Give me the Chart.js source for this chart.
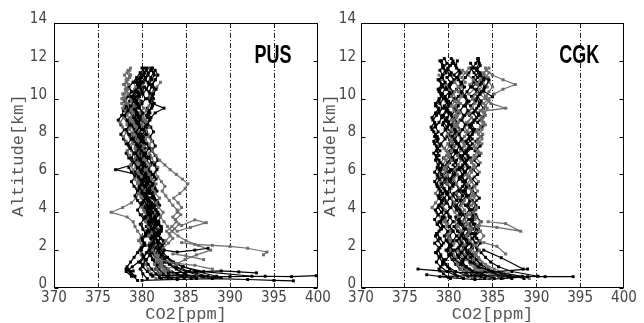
<!DOCTYPE html>
<html><head><meta charset="utf-8">
<script src="https://cdn.jsdelivr.net/npm/chart.js@4.4.0/dist/chart.umd.min.js"></script>
<style>
html,body{margin:0;padding:0;background:#fff;}
#wrap{position:relative;width:644px;height:323px;overflow:hidden;background:#fff;}
canvas{position:absolute;top:0;}
#c1{left:0;width:344px;height:323px;}
#c2{left:322px;width:322px;height:323px;}
</style></head><body>
<div id="wrap"><canvas id="c1" width="344" height="323"></canvas><canvas id="c2" width="322" height="323"></canvas></div>
<script>
// ---- axes ----
const xTicks = [370,375,380,385,390,395,400];
const yTicks = [0,2,4,6,8,10,12,14];
const xTitle = 'CO2[ppm]';
const yTitle = 'Altitude[km]';
const panelNames = ['PUS','CGK'];

// ---- altitude sampling levels (km) ----
const altA = [0.5,0.75,1,1.25,1.5,1.75,2,2.25,2.5,2.75,3,3.25,3.5,3.75,4,4.25,4.5,4.75,5,5.25,5.5,5.75,6,6.25,6.5,6.75,7,7.25,7.5,7.75,8,8.25,8.5,8.75,9,9.25,9.5,9.75,10,10.25,10.5,10.75,11,11.25,11.5,11.75,12,12.25];
const altB = [0.62,0.87,1.12,1.37,1.62,1.87,2.12,2.37,2.62,2.87,3.12,3.37,3.62,3.87,4.12,4.37,4.62,4.87,5.12,5.37,5.62,5.87,6.12,6.37,6.62,6.87,7.12,7.37,7.62,7.87,8.12,8.37,8.62,8.87,9.12,9.37,9.62,9.87,10.12,10.37,10.62,10.87,11.12,11.37,11.62,11.87,12.12];

// ---- PUS profiles (CO2 ppm, bottom level upward) ----
const pus01 = [386.2,384.8,383.9,383.1,382.6,382.2, 381.9,382.3,381.8,381.5,381.9,381.4,381.1,381.5, 381.2,380.8,381.1,380.7,380.4,380.8,380.5,380.1, 380.4,380.0,380.3,379.8,380.2,379.9,379.5,379.9, 379.6,379.3,379.7,379.4,379.8,380.1,379.7,380.0, 380.4,380.1,380.5,380.8,380.4,380.7,381.0];
const pus02 = [392.5,387.0,384.6,383.4,382.7,382.0, 381.6,381.9,381.4,381.7,381.2,381.5,381.0,380.7, 381.0,380.6,380.2,380.5,380.0,379.7,380.0,379.6, 379.2,379.5,379.1,378.8,379.1,378.7,378.4,378.8, 378.5,378.2,378.6,378.3,378.0,378.4,378.7,379.1, 378.8,379.2,379.6,379.3,379.8,380.2,380.6];
const pus03 = [384.2,383.6,383.0,383.8,384.9,386.2, 387.8,386.4,385.0,384.1,383.4,382.9,382.5,382.1, 382.4,381.9,381.6,382.0,381.5,381.2,381.6,381.1, 380.8,380.5,380.9,380.4,380.1,379.8,380.2,379.7, 379.4,379.1,379.5,379.0,378.7,379.0,378.6,378.3, 378.0,378.4,378.1,378.5,378.2,378.7];
const pus04 = [381.2,380.6,380.1,379.8,380.2,380.5, 380.9,381.3,381.0,381.4,381.1,380.8,381.2,380.9, 380.6,381.0,380.7,380.3,380.7,380.4,380.0,380.3, 379.9,379.6,380.0,379.7,379.3,379.7,379.4,379.0, 379.4,379.1,378.8,379.2,378.9,379.3,379.6,379.3, 379.7,380.0,379.7,380.1];
const pus05 = [383.8,383.1,382.6,382.2,381.8,381.5, 381.2,381.6,381.1,380.8,381.2,380.7,380.4,380.8, 380.3,380.0,380.4,379.9,379.6,380.0,379.5,379.2, 379.5,379.0,378.7,379.1,378.6,378.3,378.7,378.2, 377.9,378.3,377.8,377.5,377.9,378.2,377.8,378.1, 377.7,378.0,378.4,378.0,378.3,378.7,378.4];
const pus06 = [388.5,386.2,384.7,383.6,382.9,382.4, 382.0,381.7,382.1,381.8,382.2,381.9,381.5,381.9, 381.6,382.0,381.7,381.3,381.7,381.4,381.0,381.4, 381.0,380.7,381.1,380.8,380.4,380.8,380.5,380.1, 380.5,380.2,380.6,380.9,380.5,380.8,381.2,380.9, 381.2,380.8,381.1,380.7,381.0,381.3,381.0];
const pus07 = [382.6,382.1,381.7,381.4,381.7,382.0, 382.5,382.1,382.7,383.2,382.8,383.4,383.9,383.5, 384.0,384.5,384.1,383.6,384.3,384.9,385.2,384.6, 383.9,383.2,382.6,382.0,381.6,381.2,380.8,381.1, 380.7,380.4,380.8,380.5,380.1,379.8,380.2,379.9, 379.6,380.0,379.7,380.1,380.4];
const pus08 = [379.2,378.7,378.3,378.7,379.1,379.5, 379.9,380.3,380.0,380.4,380.1,379.8,380.2,379.8, 379.5,379.9,379.5,379.2,379.5,379.1,378.8,379.2, 378.8,378.5,378.9,378.5,378.2,378.6,378.2,377.9, 377.6,378.0,377.6,377.3,377.7,377.9,378.3,378.0, 378.4,378.8,378.5,379.0,379.4,379.8,380.3];
const pus09 = [384.8,383.6,382.8,382.2,381.8,381.4, 381.1,381.5,381.8,381.4,381.9,382.2,381.8,382.1, 381.7,381.4,381.8,381.4,381.1,381.5,381.2,381.6, 381.3,381.7,381.4,381.8,381.5,381.1,381.5,381.2, 380.9,381.3,381.0,380.6,381.0,380.7,381.1,381.4, 381.0,381.3,381.6,381.2,381.5,381.8,381.5];
const pus10 = [385.3,384.3,383.5,382.9,382.4,382.0, 381.7,382.0,381.6,381.3,381.7,381.3,381.0,381.3, 380.9,380.6,381.0,380.6,380.2,380.6,380.2,379.9, 380.2,379.8,379.5,379.9,379.5,379.2,379.6,379.2, 378.9,379.3,379.0,378.6,379.0,378.7,379.1,378.8, 378.5,378.9,378.5,378.2,378.6,378.3,378.7];
const pus11 = [382.2,381.6,381.1,380.7,380.4,380.1, 379.9,380.3,380.0,380.4,380.8,380.5,380.9,381.2, 380.8,381.1,380.7,380.4,380.8,380.4,380.1,380.5, 380.1,379.8,380.2,379.8,379.5,379.9,379.5,379.2, 379.6,379.3,379.7,379.4,379.0,379.4,379.1,379.5, 379.2,379.6,379.9,379.5,379.8,380.2,380.5];
const pus12 = [383.2,382.6,382.1,381.8,381.5,381.9, 382.4,383.0,383.5,383.1,383.7,384.2,383.8,384.4, 384.0,383.5,383.1,382.7,382.3,382.6,382.2,381.8, 381.5,381.8,381.4,381.1,380.8,381.1,380.7,380.4, 380.7,380.3,380.0,380.4,380.1,380.5,380.8,381.2, 380.9,381.3,381.7,382.1];
const pus13 = [380.6,380.1,379.8,380.1,380.5,380.9, 381.2,380.9,381.3,381.0,380.6,381.0,380.7,380.3, 380.7,380.3,380.0,380.4,380.0,379.7,380.1,379.8, 379.4,377.0,378.8,379.3,379.7,379.4,379.8,380.2, 379.9,380.3,380.6,380.2,380.6,380.9,380.6,381.0, 381.3,381.0,381.4,381.1,381.5];
const pus14 = [386.8,385.0,383.6,382.8,382.2,381.8, 382.1,382.5,382.1,381.8,382.2,381.8,381.5,381.9, 381.5,381.2,381.6,381.2,380.9,381.3,380.9,380.6, 380.9,380.5,380.2,380.6,380.2,379.9,380.3,379.9, 379.6,380.0,379.6,379.3,379.7,379.3,379.0,379.4, 379.1,379.5,379.9,379.6,380.0,380.3,380.0];
const pus15 = [381.6,381.1,380.7,380.4,380.1,379.9, 379.7,380.0,379.6,379.9,379.5,379.2,379.0,378.3, 376.5,377.8,378.8,379.3,379.7,379.4,379.8,380.1, 379.8,380.2,380.5,380.2,379.9,380.3,379.9,379.6, 379.3,379.7,379.3,379.0,378.7,379.1,378.7,378.4, 378.1,378.5,378.2];
const pus16 = [378.8,378.2,378.9,379.6,380.1,380.6, 381.0,381.4,381.1,381.5,381.2,380.9,381.3,380.9, 380.6,381.0,380.6,380.3,380.7,380.3,380.0,380.4, 380.0,379.7,380.1,379.7,379.4,379.8,379.4,379.1, 378.8,379.2,378.8,378.5,378.9,378.5,378.2,378.6, 378.9,379.3];
const pus17 = [383.0,382.4,381.9,381.5,381.2,380.9, 381.3,380.9,381.2,380.8,381.1,380.7,381.0,380.6, 380.9,380.5,380.8,380.4,380.7,380.3,380.6,380.2, 380.5,380.1,380.4,380.0,380.3,379.9,380.2,379.8, 380.1,380.5,380.2,380.6,381.0,381.5,382.5,381.2, 380.6,380.9,380.5,380.8,381.1,381.4,381.1];
const pus18 = [384.0,383.2,382.6,382.2,381.8,381.5, 381.2,381.0,381.4,381.1,380.8,381.2,380.9,380.5, 380.2,380.6,380.2,379.9,380.3,379.9,379.6,380.0, 379.6,379.3,379.7,379.3,379.0,379.4,379.0,378.7, 379.0,378.6,378.3,378.7,378.3,378.0,378.4,378.8, 378.5,378.9,379.3,379.0,379.4,379.8];
const pus19 = [383.4,382.1,381.6,381.8,381.3,381.0, 380.8,381.5,381.1,381.3,380.6,380.9,381.4,380.8, 380.5,380.7,380.2,380.9,380.4,380.1,380.6,380.3, 379.9,380.5,380.0,379.6,380.1,379.8,379.3,379.9, 379.5,379.7,379.1,379.6,379.2,379.5,378.9,379.4, 379.0,379.6,379.2,379.8,379.4,379.9];
const pus20 = [387.5,385.4,383.9,382.6,382.1,381.6, 381.2,381.8,381.5,382.0,381.4,381.7,381.1,381.3, 381.0,381.5,380.9,381.2,380.7,381.0,380.4,380.8, 380.3,380.6,380.1,380.4,379.8,380.3,379.7,380.0, 379.5,379.9,379.3,379.8,379.4,379.1,379.6,379.2, 379.7,379.3,379.8,380.2];
const pus21 = [382.8,382.0,381.5,381.7,381.2,380.9, 381.0,380.6,381.1,380.7,380.4,380.9,380.5,380.2, 380.6,380.1,379.8,380.3,379.9,379.5,380.0,379.6, 379.2,379.7,379.3,378.9,379.4,378.8,378.5,379.0, 378.6,378.2,378.7,378.3,377.9,378.4,378.1,377.7, 378.2,377.8,378.3,377.9,378.4,378.0,378.6];
const pus22 = [384.6,383.3,382.5,381.9,381.6,381.1, 381.4,380.9,381.3,381.6,381.0,381.2,380.7,381.1, 380.8,380.4,380.9,380.5,380.8,380.2,380.6,380.1, 380.5,379.9,380.3,379.8,380.2,379.7,380.0,379.5, 379.9,379.4,379.8,379.3,379.7,379.2,379.6,379.9, 379.5,380.0,380.3,379.9,380.4,380.7,381.2];
const pus23 = [385.6,384.0,382.9,382.3,381.9,382.3, 381.8,382.1,382.5,381.9,382.2,381.6,381.9,381.4, 381.8,381.3,381.6,381.1,381.4,380.9,381.3,380.8, 381.1,380.6,381.0,380.5,380.9];
const pus24 = [383.0,382.3,381.9,382.4,382.0,381.7, 382.2,381.8,381.5,381.9,381.4,381.7,381.2,381.6, 381.1,381.4,380.9,381.3,380.8,381.1,380.6,381.0, 380.5,380.8,380.3,380.7,380.1,380.5,380.0,380.4, 379.8,380.2,379.7,380.1,379.5,379.9,379.4,379.8];
const pusProfiles = [pus01,pus02,pus03,pus04,pus05,pus06,pus07,pus08,pus09,pus10,pus11,pus12,pus13,pus14,pus15,pus16,pus17,pus18,pus19,pus20,pus21,pus22,pus23,pus24];
const pusLevels   = [altA,altB,altA,altB,altA,altB,altA,altB,altA,altB,altA,altB,altA,altB,altA,altB,altA,altB,altA,altB,altA,altB,altA,altB];
// low-level and side excursions, [CO2, km]
const pusTail1 = [[382,0.55],[386,0.58],[390,0.6],[394,0.62],[397,0.6],[399.8,0.65]];
const pusTail2 = [[380,0.4],[384,0.45],[388,0.5],[392,0.45],[395,0.4],[397.2,0.38]];
const pusTail3 = [[383,0.8],[386,0.85],[389,0.9],[391,0.85],[393,0.8]];
const pusTail4 = [[384.5,2.4],[386,2.3],[388,2.25],[390,2.2],[392,2.1],[394.2,1.9],[393.8,1.75]];
const pusTail5 = [[384,3.0],[385.5,3.2],[387.3,3.45],[386,3.6],[384.5,3.3]];
const pusTail6 = [[383.5,1.8],[385,1.7],[387,1.5]];
const pusTail7 = [[382.5,2.0],[384,1.9],[386,2.0],[387.5,2.1]];
const pusTail8 = [[379.5,0.4],[378.8,0.7],[378.2,1.0],[379.0,0.9]];
const pusTail9 = [[382,1.5],[384,1.3],[386,1.2],[388,1.0]];
const pusTail10 = [[381,0.7],[383,0.65],[385,0.7],[387,0.6],[389,0.55]];
const pusTails = [pusTail1,pusTail2,pusTail3,pusTail4,pusTail5,pusTail6,pusTail7,pusTail8,pusTail9,pusTail10];

// ---- CGK profiles ----
const cgk01 = [385.2,383.8,382.4,381.4,380.7,380.3, 379.9,380.3,379.8,379.5,379.9,379.4,379.1,379.5, 379.2,378.8,379.2,378.9,379.3,378.9,378.6,379.0, 378.7,379.1,378.8,378.5,378.9,378.6,379.0,378.7, 378.4,378.8,378.5,378.9,379.2,378.9,379.3,379.0, 379.4,379.1,378.8,379.2,378.9,379.3,379.0,379.4, 379.2];
const cgk02 = [388.4,385.0,383.4,382.5,381.9,381.4, 381.1,381.5,381.2,381.6,381.9,381.5,381.2,381.6, 381.3,380.9,381.3,381.6,381.2,381.6,381.9,381.5, 381.8,382.2,381.8,381.4,381.8,381.4,381.1,381.5, 381.2,381.6,381.9,381.5,381.8,382.2,381.9,382.3, 381.9,381.5,381.8,381.4,381.0,381.3,380.9,380.6, 380.3];
const cgk03 = [386.2,384.9,383.9,383.3,382.8,383.1, 383.5,383.1,383.6,384.0,383.6,383.2,383.6,383.1, 382.8,383.2,382.8,382.4,382.8,382.4,382.1,382.5, 382.1,382.5,382.9,382.5,382.9,383.3,382.9,383.3, 383.6,383.2,383.6,384.0,383.7,384.1,384.4,384.0, 384.6,385.2,386.2,387.6,386.2,385.0,384.3];
const cgk04 = [382.2,380.8,379.9,379.3,378.9,378.6, 379.0,379.4,379.0,378.7,379.1,378.7,378.4,378.8, 378.5,378.9,379.2,378.8,379.1,378.7,378.4,378.8, 378.4,378.7,379.0,378.6,378.3,378.7,378.4,378.8, 378.5,378.1,378.5,378.2,378.6,378.9,378.5,378.9, 379.2,378.9,379.3,379.6,379.3,379.7,379.4,379.8, 379.5];
const cgk05 = [389.2,386.8,385.2,384.2,383.5,383.0, 382.5,382.9,382.4,382.0,382.4,381.9,381.6,382.0, 381.6,381.2,381.6,381.2,380.9,381.3,380.9,380.6, 381.0,380.7,381.1,381.4,381.0,381.4,381.8,381.4, 381.8,382.2,381.8,382.2,382.6,382.2,382.6,383.0, 382.7,383.1,383.5,383.2,383.6,384.0];
const cgk06 = [384.2,382.7,382.0,381.6,381.9,382.3, 382.7,383.1,382.7,383.1,383.4,383.0,382.6,383.0, 382.6,382.2,382.6,382.2,381.9,382.3,381.9,381.5, 381.9,381.5,381.9,382.3,381.9,382.3,382.7,382.3, 382.7,383.0,382.6,383.0,383.4,383.0,383.4,383.7, 383.3,383.7,384.1,383.7,384.0,383.6,383.2,383.5, 383.3];
const cgk07 = [380.2,379.4,378.9,379.3,379.7,380.1, 380.5,380.1,380.5,380.9,380.5,380.1,380.5,380.1, 379.8,380.2,379.8,379.5,379.9,379.5,379.2,379.6, 379.2,378.9,379.3,378.9,378.6,379.0,378.6,378.3, 378.7,378.3,378.0,378.4,378.1,378.5,378.9,378.5, 378.9,379.3,378.9,379.3,378.9,379.3,379.6,379.3, 379.0];
const cgk08 = [383.2,382.2,381.6,381.1,380.8,380.5, 380.2,380.6,380.2,379.9,380.3,379.9,379.6,380.0, 379.6,379.3,379.7,379.3,379.0,378.7,379.1,378.7, 379.1,379.5,379.1,379.5,379.9,379.5,379.9,380.3, 379.9,380.3,380.7,380.3,380.7,381.1,380.7,381.1, 381.5,381.1,381.5,381.9,381.5,381.9,382.3];
const cgk09 = [387.2,385.2,384.1,383.6,383.1,382.7, 382.3,382.7,382.3,381.9,382.3,381.9,381.5,381.9, 381.5,381.1,381.5,381.1,380.8,381.2,380.8,381.2, 381.6,381.2,381.6,382.0,381.6,382.0,382.4,382.0, 382.4,382.8,382.4,382.8,383.2,382.8,383.2,383.6, 383.2,383.6,383.2,383.6,384.0,383.6,383.2,383.6, 383.4];
const cgk10 = [386.2,385.2,384.4,383.8,383.4,383.0, 382.6,383.0,382.6,382.2,382.6,382.2,381.8,382.2, 382.6,382.2,382.6,383.0,382.6,383.0,382.6,382.2, 382.6,382.2,381.8,382.2,381.8,381.4,381.8,381.4, 381.0,381.4,381.0,380.6,381.0,380.6,380.3,380.7, 380.3,380.7,381.1,380.7,381.1,381.5];
const cgk11 = [381.7,380.7,380.1,379.7,379.4,379.1, 378.8,379.2,378.8,378.5,378.9,379.3,378.9,379.3, 379.7,379.3,379.7,380.1,379.7,380.1,380.5,380.1, 380.5,380.9,380.5,380.9,381.3,380.9,381.2,380.8, 380.4,380.8,380.4,380.0,380.4,380.0,379.6,380.0, 379.6,379.2,379.6,379.2,378.8];
const cgk12 = [383.7,382.7,382.0,381.5,381.1,381.5, 381.9,382.3,381.9,382.3,382.7,382.3,382.7,383.1, 382.7,383.1,382.7,382.3,382.7,382.3,381.9,382.3, 381.9,381.5,381.9,381.5,381.1,381.5,381.1,380.7, 381.1,380.7,380.3,380.7,380.3,380.7,381.1,380.7, 381.1,381.5,381.1,381.5,381.9,382.3,382.7,383.1, 383.4];
const cgk13 = [384.7,383.7,383.0,382.5,382.1,381.8, 381.5,381.9,381.5,381.1,381.5,381.1,380.7,381.1, 380.7,380.3,380.7,380.3,379.9,380.3,379.9,379.5, 379.9,379.5,379.9,380.3,379.9,380.3,380.7,380.3, 380.7,381.1,380.7,381.1,381.6,382.4,386.5,384.8, 384.2,383.5,384.0,383.4,382.8,382.2,381.6];
const cgk14 = [390.2,387.2,385.7,384.8,384.2,383.7, 383.2,383.6,383.2,382.8,383.2,382.8,382.4,382.8, 382.4,382.0,382.4,382.0,381.6,382.0,381.6,381.2, 380.8,381.2,380.8,380.4,380.8,380.4,380.0,380.4, 380.0,379.6,380.0,379.6,379.3,379.7,380.1,379.7, 380.1,380.5,380.1,380.5,380.9,381.3];
const cgk15 = [382.7,382.0,381.4,381.0,380.7,380.4, 380.1,380.5,380.1,379.8,380.2,379.8,379.5,379.1, 378.6,378.1,378.5,378.9,378.5,378.9,379.3,378.9, 379.3,379.7,379.3,379.7,380.1,379.7,380.1,380.5, 380.1,380.5,380.9,380.5,380.9,381.3,380.9,381.3, 380.9,380.5,380.1,379.7,379.3,378.9];
const cgk16 = [385.7,384.2,383.4,382.9,382.5,382.1, 381.7,382.1,381.7,381.3,381.7,381.3,380.9,381.3, 380.9,380.5,380.9,380.5,380.1,380.5,380.1,379.7, 380.1,379.7,380.1,380.5,380.1,380.5,380.9,380.5, 380.9,381.3,380.9,381.3,381.7,381.3,381.7,382.1, 381.7,382.1,382.5,382.9,383.3,382.9,382.5];
const cgk17 = [383.0,382.0,381.3,380.8,380.4,380.0, 379.7,380.1,379.7,380.1,380.5,380.1,379.8,380.2, 379.8,380.2,380.6,380.2,379.8,380.2,379.8,380.2, 380.6,380.2,379.8,380.2,379.8,380.2,380.6,380.2, 379.8,380.2,379.8,379.4,379.8,380.2,379.8,380.2, 380.6,380.2,379.8,380.2,380.6,380.2,379.8,380.2, 380.5];
const cgk18 = [384.5,383.6,383.0,382.6,382.3,382.0, 381.7,382.1,381.7,382.1,382.5,382.1,381.8,382.2, 381.8,381.4,381.8,382.2,381.8,382.2,382.6,382.2, 382.6,383.0,382.6,383.0,383.4,383.0,383.4,383.8, 383.4,383.8,384.2,383.8,384.2,383.8,384.2,384.6, 384.2,384.6,385.0,384.6,384.2,384.6,384.2];
const cgk19 = [384.1,382.6,381.8,381.2,381.6,381.0, 380.7,381.3,380.9,381.5,381.0,380.6,381.2,380.8, 381.4,380.9,380.5,381.1,380.6,381.2,380.8,380.3, 380.9,380.4,381.0,380.5,380.1,380.7,380.2,380.8, 380.3,380.9,380.4,381.0,380.6,381.1,380.7,381.3, 380.8,381.4,380.9,381.5,381.1,380.6,381.2,380.8, 381.0];
const cgk20 = [386.8,384.6,383.2,382.4,382.9,382.2, 381.9,382.5,382.0,382.6,382.1,381.7,382.3,381.8, 382.4,381.9,381.5,382.1,381.6,382.2,381.7,382.3, 381.8,382.4,381.9,382.5,382.0,382.6,382.1,382.7, 382.2,382.8,382.3,382.9,382.4,383.0,382.5,383.1, 382.6,383.2,382.7,383.3,382.8,383.4,382.9,382.5];
const cgk21 = [383.6,382.8,382.1,381.5,381.9,381.3, 381.0,381.6,381.1,381.7,381.2,380.8,381.4,380.9, 381.5,381.0,381.6,381.1,381.7,381.3,381.9,381.4, 382.0,381.5,382.1,381.6,382.2,381.7,382.3,381.8, 382.4,381.9,382.5,382.0,382.6,382.1,382.7,382.2, 382.8,382.3,382.9,382.4,383.0];
const cgk22 = [381.0,379.8,379.1,378.6,379.0,378.5, 378.9,378.4,379.0,378.6,379.2,378.7,379.3,378.8, 379.4,378.9,379.5,379.0,379.6,379.1,379.7,379.2, 379.8,379.3,379.9,379.4,380.0,379.5,379.1,379.6, 379.2,379.7,379.3,379.8,379.4,379.9,379.5,380.0, 379.6,380.1,379.7,380.2,379.8,380.3,379.9,380.4];
const cgk23 = [388.6,386.0,384.5,383.7,383.2,382.8, 383.3,382.9,383.5,383.0,383.6,383.1,383.7,383.2, 382.8,383.4,382.9,383.5,383.0,382.6,383.2,382.7, 383.3,382.8,383.4,382.9,383.5,383.0,383.6,383.1, 383.7,383.2,383.8,383.3,383.9,383.4,384.0,383.5];
const cgk24 = [385.0,383.9,383.1,382.5,382.9,382.3, 382.7,382.2,382.8,382.3,382.9,382.4,383.0,382.5, 383.1,382.6,383.2,382.7,383.3,382.8,383.4,382.9, 383.5,383.0,383.6,383.1,383.7,383.2,383.8,383.3, 383.9,383.4,384.0,383.5,384.1,383.6,384.2,383.7, 384.3,383.8,384.4,383.9,384.5,384.0,384.6];
const cgkProfiles = [cgk01,cgk02,cgk03,cgk04,cgk05,cgk06,cgk07,cgk08,cgk09,cgk10,cgk11,cgk12,cgk13,cgk14,cgk15,cgk16,cgk17,cgk18,cgk19,cgk20,cgk21,cgk22,cgk23,cgk24];
const cgkLevels   = [altA,altB,altA,altB,altA,altB,altA,altB,altA,altB,altA,altB,altA,altB,altA,altB,altA,altB,altA,altB,altA,altB,altA,altB];
const cgkTail1 = [[379,0.6],[383,0.65],[387,0.62],[391,0.6],[394.2,0.6]];
const cgkTail2 = [[376.5,1.0],[379,0.9],[382,0.8],[385,0.85],[389,1.0]];
const cgkTail3 = [[377.5,0.7],[380,0.55],[383,0.45],[386,0.5],[389,0.6]];
const cgkTail4 = [[383.5,3.3],[385.5,3.2],[388.2,3.0],[386.5,3.4],[384.5,3.5]];
const cgkTail5 = [[384,2.4],[385.5,2.2],[386.5,1.8]];
const cgkTail6 = [[384,2.0],[386,1.6],[388.5,1.0]];
const cgkTail7 = [[383.5,11.2],[384.6,11.0],[384.0,10.4],[385.0,10.1]];
const cgkTails = [cgkTail1,cgkTail2,cgkTail3,cgkTail4,cgkTail5,cgkTail6,cgkTail7];

// ---- styles (kept apart from the data) ----
const BLACK = '#000000', GRAY = '#6c6c6c';
const pusTone = ['k','k','g','k','g','k','g','k','k','g','k','g','k','k','g','k','k','g','k','k','g','k','k','g'];
const pusTailTone = ['k','k','k','g','g','g','k','k','g','k'];
const cgkTone = ['k','k','g','k','g','k','k','g','k','g','k','k','g','k','g','k','k','g','k','k','g','k','k','g'];
const cgkTailTone = ['k','k','k','g','g','k','k'];

function ds(points, tone){
  const c = tone === 'g' ? GRAY : BLACK;
  return {data: points, borderColor: c, backgroundColor: c, borderWidth: 1.2,
          pointRadius: 2.1, pointBorderWidth: 0, pointStyle: 'rect', showLine: true, tension: 0};
}
function buildSets(profiles, levels, tones, tails, tailTones){
  const out = [];
  tails.forEach((t,i)=> out.push(ds(t.map(p=>({x:p[0], y:p[1]})), tailTones[i])));
  profiles.forEach((v,i)=> out.push(ds(v.map((x,j)=>({x:x, y:levels[i][j]})), tones[i])));
  return out;
}

const tickFont = {family: "'Liberation Sans Narrow','DejaVu Sans Condensed',sans-serif", size: 15};
const titleFont = {family: "'Liberation Mono','DejaVu Sans Mono',monospace", size: 17, lineHeight: 1.0};

const framePlugin = {
  id: 'frame',
  afterDraw(chart, args, opts){
    const {ctx, chartArea: a, scales: {x, y}} = chart;
    ctx.save();
    ctx.strokeStyle = '#000'; ctx.lineWidth = 1;
    const L = Math.round(a.left)+0.5, R = Math.round(a.right)-0.5, T = Math.round(a.top)+0.5, B = Math.round(a.bottom)-0.5;
    ctx.strokeRect(L, T, R-L, B-T);
    ctx.beginPath();
    yTicks.forEach(t=>{
      const py = Math.round(y.getPixelForValue(t))+0.5;
      ctx.moveTo(L, py); ctx.lineTo(L+4, py);
      ctx.moveTo(R, py); ctx.lineTo(R-4, py);
    });
    ctx.stroke();
    ctx.fillStyle = '#000';
    ctx.font = "bold 25px 'Liberation Sans','DejaVu Sans',sans-serif";
    ctx.textAlign = 'center'; ctx.textBaseline = 'middle';
    ctx.translate(x.getPixelForValue(394.9), y.getPixelForValue(12.25));
    ctx.scale(0.72, 1);
    ctx.fillText(opts.text, 0, 0);
    ctx.restore();
  }
};

function makeChart(id, sets, name, padLeft, padRight, yAxisW, yTickPad){
  return new Chart(document.getElementById(id), {
    type: 'scatter',
    data: {datasets: sets},
    plugins: [framePlugin],
    options: {
      responsive: false, animation: false, devicePixelRatio: 1,
      layout: {padding: {left: padLeft, right: padRight, top: 23, bottom: 0}},
      plugins: {legend: {display: false}, tooltip: {enabled: false}, frame: {text: name}},
      scales: {
        x: {type: 'linear', min: 370, max: 400,
            afterBuildTicks: s => { s.ticks = xTicks.map(v=>({value:v})); },
            afterFit: s => { s.height = 35; s.paddingLeft = 0; s.paddingRight = 0; },
            ticks: {font: tickFont, color: '#444', padding: 1, maxRotation: 0, autoSkip: false},
            grid: {drawTicks: false, lineWidth: 1,
                   color: c => (c.tick && (c.tick.value === 370 || c.tick.value === 400)) ? 'rgba(0,0,0,0)' : '#222'},
            border: {display: false, dash: [5,2,1,2]},
            title: {display: true, text: xTitle, font: titleFont, color: '#555', padding: {top: 0, bottom: 0}}},
        y: {type: 'linear', min: 0, max: 14,
            afterBuildTicks: s => { s.ticks = yTicks.map(v=>({value:v})); },
            afterFit: s => { s.width = yAxisW; s.paddingTop = 0; s.paddingBottom = 0; },
            ticks: {font: tickFont, color: '#444', padding: yTickPad, labelOffset: -4},
            grid: {display: false, drawTicks: false},
            border: {display: false},
            title: {display: true, text: yTitle, font: titleFont, color: '#555', padding: {top: 0, bottom: 0}}}
      }
    }
  });
}

makeChart('c1', buildSets(pusProfiles, pusLevels, pusTone, pusTails, pusTailTone), panelNames[0], 10, 26, 44, 7);
makeChart('c2', buildSets(cgkProfiles, cgkLevels, cgkTone, cgkTails, cgkTailTone), panelNames[1], 0, 20, 39, 5);
</script>
</body></html>
